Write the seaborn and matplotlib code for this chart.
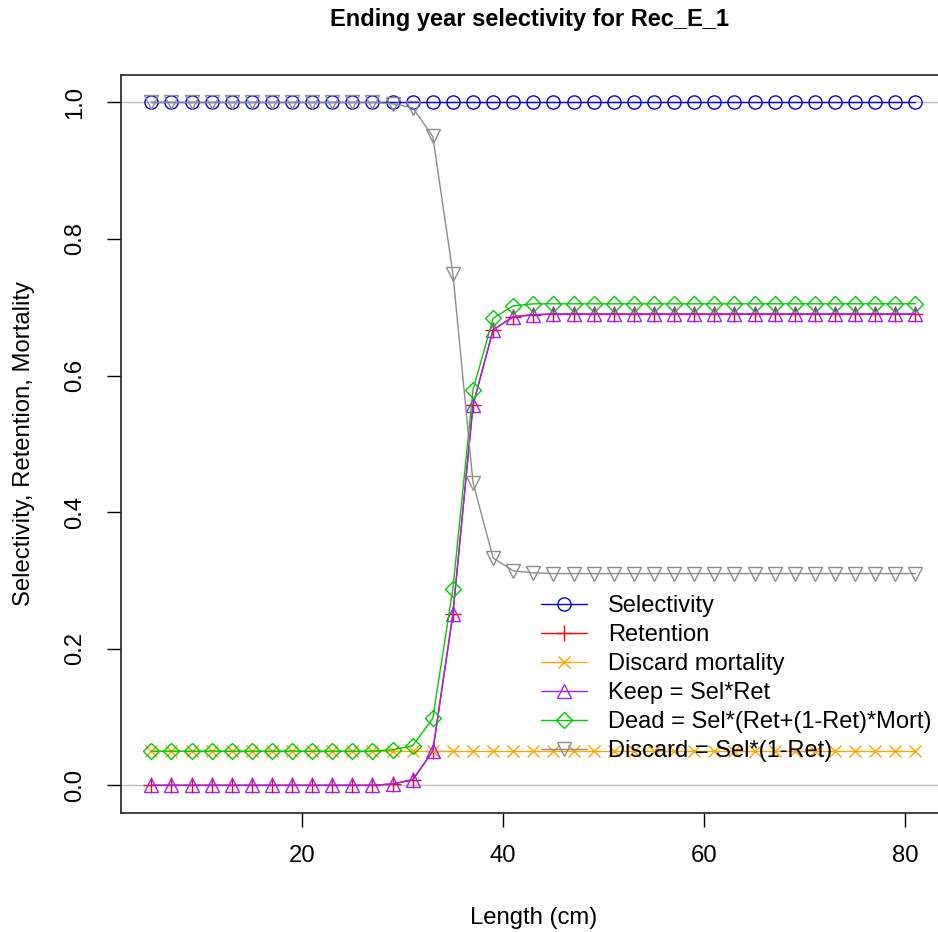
import pandas as pd
import seaborn as sns
import matplotlib.pyplot as plt

# 长度分组 (cm)
lengths = list(range(5, 82, 2))

# 各曲线数值
selectivity = [1.0] * 39
retention = [0.0] * 12 + [0.002, 0.008, 0.050, 0.251, 0.557, 0.667, 0.686, 0.689] + [0.69] * 19
discard_mort = [0.05] * 39
keep = [0.0] * 12 + [0.002, 0.008, 0.050, 0.251, 0.557, 0.667, 0.686, 0.689] + [0.69] * 19
dead = [0.05] * 12 + [0.052, 0.058, 0.098, 0.288, 0.579, 0.684, 0.702, 0.705] + [0.705] * 19
discard = [1.0] * 12 + [0.998, 0.992, 0.950, 0.749, 0.443, 0.333, 0.314, 0.311] + [0.31] * 19

labels = ['Selectivity', 'Retention', 'Discard mortality', 'Keep = Sel*Ret',
          'Dead = Sel*(Ret+(1-Ret)*Mort)', 'Discard = Sel*(1-Ret)']
colors = ['blue', 'red', 'orange', '#A020F0', '#00CD00', '#8C8C8C']
markers = ['o', '+', 'x', '^', 'D', 'v']
sizes = [9.5, 12, 9, 10.5, 8.5, 10.5]

sns.set_style('ticks')
plt.rcParams['font.family'] = ['Liberation Sans', 'DejaVu Sans']
plt.rcParams['text.color'] = 'black'
plt.rcParams['axes.labelcolor'] = 'black'
plt.rcParams['xtick.color'] = 'black'
plt.rcParams['ytick.color'] = 'black'


def selectivity_image():
	series = [selectivity, retention, discard_mort, keep, dead, discard]
	fig = plt.figure(figsize=(9.38, 9.32), dpi=100)
	ax = fig.add_axes([0.1287, 0.1281, 0.8798, 0.7914])

	# 0 和 1 处的参考线
	ax.axhline(0, color='#BEBEBE', lw=1, zorder=1)
	ax.axhline(1, color='#BEBEBE', lw=1, zorder=1)

	for vals, lab, c, m, s in zip(series, labels, colors, markers, sizes):
		df = pd.DataFrame({'len': lengths, 'val': vals})
		sns.lineplot(x='len', y='val', data=df, ax=ax, color=c, lw=1.0,
		             marker=m, markersize=s, markerfacecolor='none',
		             markeredgecolor=c, markeredgewidth=1.0, label=lab, zorder=3)

	ax.set_xlim(1.96, 84.04)
	ax.set_ylim(-0.04, 1.04)
	ax.set_xticks([20, 40, 60, 80])
	ax.set_yticks([0.0, 0.2, 0.4, 0.6, 0.8, 1.0])
	ax.set_yticklabels(['0.0', '0.2', '0.4', '0.6', '0.8', '1.0'], rotation=90, va='center')
	ax.tick_params(axis='both', length=10, width=1, labelsize=17.2, color='black')
	ax.tick_params(axis='x', pad=13)
	ax.tick_params(axis='y', pad=15)
	for sp in ax.spines.values():
		sp.set_color('#333333')
		sp.set_linewidth(1.3)

	ax.set_xlabel('Length (cm)', fontsize=17.2, labelpad=29)
	ax.set_ylabel('Selectivity, Retention, Mortality', fontsize=17.2, labelpad=21)
	fig.text(0.565, 0.979, 'Ending year selectivity for Rec_E_1', ha='center', va='center',
	         fontsize=17, fontweight='bold')

	ax.legend(loc='upper left', bbox_to_anchor=(541 / 938, 1 - 595 / 932),
	          bbox_transform=fig.transFigure, frameon=False, fontsize=17.0,
	          handlelength=1.95, handletextpad=0.9, labelspacing=0.295,
	          borderpad=0, borderaxespad=0)

	fig.savefig('out.png', dpi=100)


def main():
	selectivity_image()


if __name__ == '__main__':
	main()
